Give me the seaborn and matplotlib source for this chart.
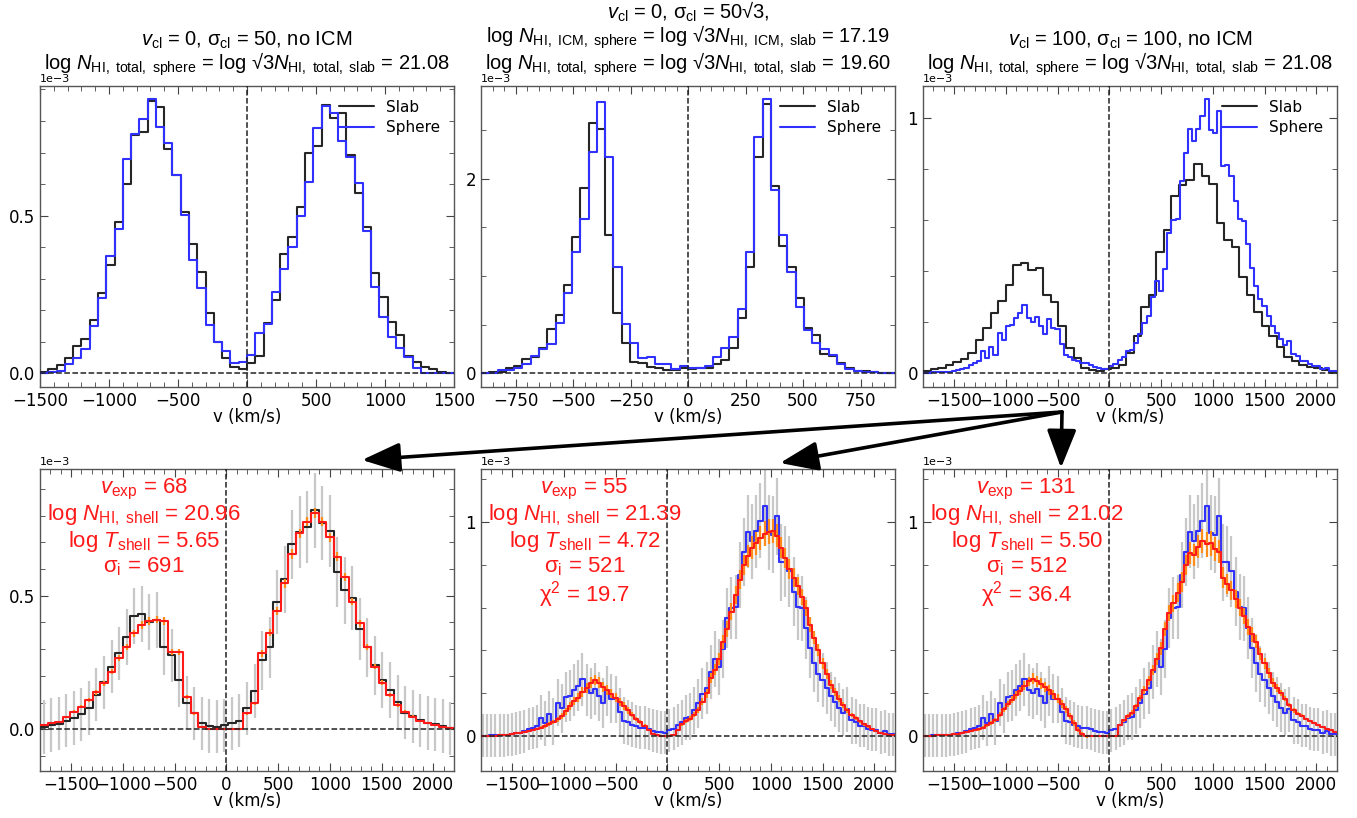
import matplotlib
matplotlib.use("Agg")
import matplotlib.pyplot as plt
import numpy as np
import seaborn as sns
from matplotlib.lines import Line2D
from matplotlib.patches import FancyArrowPatch
from matplotlib.ticker import MultipleLocator, AutoMinorLocator, ScalarFormatter

# ---- data (all fluxes in units of 1e-3) ----
# panel 1: v_cl = 0, sigma_cl = 50, 50 bins over [-1500, 1500]
slab_v0_s50 = [0.005, 0.013, 0.026, 0.050, 0.085, 0.108, 0.170, 0.256, 0.344, 0.480,
               0.600, 0.756, 0.766, 0.865, 0.844, 0.710, 0.629, 0.510, 0.410, 0.322,
               0.190, 0.100, 0.048, 0.021, 0.013, 0.034, 0.055, 0.160, 0.233, 0.378,
               0.433, 0.528, 0.700, 0.720, 0.851, 0.810, 0.824, 0.692, 0.571, 0.465,
               0.319, 0.243, 0.164, 0.122, 0.055, 0.037, 0.019, 0.013, 0.004, 0.002]
sphere_v0_s50 = [0.002, 0.004, 0.008, 0.030, 0.048, 0.076, 0.150, 0.238, 0.373, 0.458,
                 0.680, 0.759, 0.807, 0.870, 0.782, 0.729, 0.629, 0.502, 0.360, 0.270,
                 0.153, 0.100, 0.072, 0.032, 0.037, 0.058, 0.127, 0.156, 0.259, 0.330,
                 0.402, 0.500, 0.605, 0.777, 0.846, 0.824, 0.738, 0.687, 0.603, 0.451,
                 0.275, 0.178, 0.116, 0.079, 0.051, 0.016, 0.002, 0.002, 0.001, 0.001]

# panel 2: v_cl = 0, sigma_cl = 50 sqrt3 with ICM, 50 bins over [-900, 900]
slab_icm = [0.007, 0.010, 0.017, 0.050, 0.075, 0.150, 0.170, 0.257, 0.452, 0.600,
            0.910, 1.404, 1.900, 2.575, 2.510, 1.418, 0.616, 0.315, 0.120, 0.110,
            0.062, 0.060, 0.034, 0.034, 0.050, 0.040, 0.050, 0.060, 0.100, 0.140,
            0.257, 0.565, 1.096, 2.220, 2.770, 1.920, 1.308, 1.090, 0.770, 0.462,
            0.394, 0.200, 0.178, 0.110, 0.051, 0.027, 0.027, 0.017, 0.007, 0.003]
sphere_icm = [0.007, 0.007, 0.034, 0.034, 0.050, 0.096, 0.178, 0.247, 0.298, 0.514,
              0.822, 1.250, 1.582, 2.277, 2.790, 2.220, 1.090, 0.503, 0.315, 0.154,
              0.171, 0.092, 0.092, 0.041, 0.075, 0.060, 0.060, 0.075, 0.164, 0.264,
              0.377, 0.657, 1.250, 2.430, 2.815, 1.880, 1.421, 1.038, 0.685, 0.445,
              0.315, 0.247, 0.188, 0.096, 0.048, 0.027, 0.010, 0.010, 0.008, 0.003]

# panel 3: v_cl = 100, sigma_cl = 100, range [-1800, 2200]
# slab: 55 bins, sphere: 100 bins
slab_v100 = [0.008, 0.016, 0.021, 0.032, 0.043, 0.056, 0.079, 0.130, 0.176, 0.235,
             0.284, 0.346, 0.423, 0.430, 0.403, 0.410, 0.307, 0.277, 0.184, 0.100,
             0.060, 0.022, 0.012, 0.010, 0.015, 0.022, 0.032, 0.078, 0.144, 0.258,
             0.307, 0.475, 0.562, 0.692, 0.738, 0.756, 0.820, 0.772, 0.741, 0.588,
             0.520, 0.492, 0.375, 0.307, 0.239, 0.184, 0.146, 0.102, 0.062, 0.048,
             0.033, 0.024, 0.019, 0.012, 0.004]
sphere_v100 = [0.002, 0.002, 0.003, 0.003, 0.003, 0.004, 0.005, 0.008, 0.013, 0.016,
               0.022, 0.033, 0.038, 0.046, 0.085, 0.059, 0.104, 0.070, 0.156, 0.130,
               0.183, 0.189, 0.215, 0.235, 0.265, 0.215, 0.200, 0.219, 0.185, 0.154,
               0.211, 0.175, 0.172, 0.114, 0.072, 0.065, 0.052, 0.046, 0.039, 0.039,
               0.033, 0.026, 0.020, 0.018, 0.016, 0.027, 0.035, 0.050, 0.065, 0.085,
               0.090, 0.120, 0.153, 0.198, 0.224, 0.300, 0.359, 0.322, 0.407, 0.550,
               0.600, 0.602, 0.752, 0.860, 0.954, 0.909, 0.957, 1.006, 1.072, 0.950,
               0.941, 1.026, 0.811, 0.815, 0.770, 0.674, 0.602, 0.596, 0.505, 0.413,
               0.342, 0.289, 0.263, 0.224, 0.185, 0.159, 0.133, 0.110, 0.126, 0.074,
               0.068, 0.048, 0.048, 0.035, 0.029, 0.029, 0.016, 0.022, 0.009, 0.009]

# data errors (grey bars)
slab_v100_err = [0.100, 0.100, 0.100, 0.100, 0.100, 0.100, 0.100, 0.100, 0.100, 0.100,
                 0.100, 0.105, 0.105, 0.105, 0.105, 0.105, 0.105, 0.100, 0.100, 0.100,
                 0.100, 0.100, 0.100, 0.100, 0.100, 0.100, 0.100, 0.100, 0.100, 0.110,
                 0.115, 0.120, 0.125, 0.130, 0.135, 0.135, 0.140, 0.140, 0.135, 0.130,
                 0.125, 0.120, 0.115, 0.110, 0.110, 0.105, 0.105, 0.100, 0.100, 0.100,
                 0.100, 0.100, 0.100, 0.100, 0.100]
sphere_v100_err = [0.100, 0.100, 0.100, 0.100, 0.100, 0.100, 0.100, 0.100, 0.100, 0.100,
                   0.100, 0.100, 0.100, 0.100, 0.105, 0.105, 0.105, 0.110, 0.110, 0.115,
                   0.115, 0.120, 0.120, 0.120, 0.125, 0.120, 0.120, 0.120, 0.115, 0.115,
                   0.115, 0.115, 0.110, 0.110, 0.110, 0.105, 0.105, 0.100, 0.100, 0.100,
                   0.100, 0.100, 0.100, 0.100, 0.100, 0.100, 0.100, 0.100, 0.105, 0.105,
                   0.110, 0.110, 0.115, 0.120, 0.120, 0.125, 0.130, 0.130, 0.135, 0.140,
                   0.145, 0.150, 0.155, 0.160, 0.170, 0.175, 0.170, 0.175, 0.185, 0.175,
                   0.180, 0.180, 0.180, 0.165, 0.165, 0.160, 0.155, 0.150, 0.145, 0.140,
                   0.135, 0.130, 0.125, 0.120, 0.115, 0.115, 0.115, 0.110, 0.105, 0.110,
                   0.105, 0.100, 0.100, 0.100, 0.100, 0.100, 0.100, 0.100, 0.100, 0.100]

# shell-model fits (red) and their errors (orange)
fit_slab = [0.016, 0.022, 0.029, 0.047, 0.066, 0.085, 0.110, 0.138, 0.172, 0.216,
            0.266, 0.309, 0.360, 0.390, 0.405, 0.410, 0.405, 0.290, 0.290, 0.120,
            0.060, 0.008, 0.000, 0.000, 0.000, 0.000, 0.002, 0.060, 0.097, 0.284,
            0.362, 0.444, 0.546, 0.656, 0.733, 0.777, 0.810, 0.777, 0.718, 0.646,
            0.571, 0.478, 0.397, 0.309, 0.234, 0.175, 0.128, 0.091, 0.066, 0.047,
            0.032, 0.022, 0.015, 0.010, 0.004]
fit_slab_err = [0.002, 0.002, 0.003, 0.004, 0.005, 0.006, 0.007, 0.008, 0.009, 0.010,
                0.011, 0.012, 0.013, 0.014, 0.014, 0.014, 0.014, 0.012, 0.012, 0.008,
                0.005, 0.002, 0.000, 0.000, 0.000, 0.000, 0.001, 0.005, 0.007, 0.012,
                0.014, 0.015, 0.016, 0.017, 0.018, 0.018, 0.018, 0.018, 0.017, 0.016,
                0.015, 0.014, 0.013, 0.012, 0.010, 0.009, 0.008, 0.007, 0.006, 0.005,
                0.004, 0.003, 0.003, 0.002, 0.001]
fit_sphere_a = [0.000, 0.000, 0.001, 0.002, 0.003, 0.005, 0.007, 0.010, 0.013, 0.016,
                0.020, 0.024, 0.028, 0.033, 0.040, 0.048, 0.055, 0.065, 0.078, 0.095,
                0.115, 0.140, 0.165, 0.180, 0.205, 0.225, 0.250, 0.262, 0.250, 0.230,
                0.215, 0.198, 0.180, 0.160, 0.140, 0.120, 0.100, 0.080, 0.065, 0.048,
                0.030, 0.012, 0.003, 0.000, 0.000, 0.000, 0.005, 0.028, 0.055, 0.070,
                0.082, 0.100, 0.121, 0.160, 0.200, 0.270, 0.310, 0.360, 0.440, 0.500,
                0.580, 0.660, 0.730, 0.800, 0.840, 0.880, 0.900, 0.925, 0.945, 0.955,
                0.958, 0.935, 0.880, 0.830, 0.780, 0.740, 0.700, 0.650, 0.600, 0.520,
                0.460, 0.400, 0.340, 0.290, 0.240, 0.205, 0.175, 0.145, 0.120, 0.100,
                0.085, 0.070, 0.055, 0.045, 0.033, 0.022, 0.015, 0.010, 0.006, 0.004]
fit_sphere_b = [0.000, 0.001, 0.002, 0.003, 0.004, 0.005, 0.007, 0.009, 0.012, 0.015,
                0.018, 0.022, 0.027, 0.032, 0.040, 0.050, 0.062, 0.075, 0.100, 0.125,
                0.150, 0.170, 0.190, 0.210, 0.235, 0.255, 0.268, 0.255, 0.245, 0.230,
                0.215, 0.195, 0.175, 0.150, 0.125, 0.095, 0.060, 0.030, 0.010, 0.000,
                0.000, 0.000, 0.000, 0.000, 0.000, 0.000, 0.000, 0.051, 0.075, 0.095,
                0.110, 0.140, 0.180, 0.215, 0.260, 0.310, 0.360, 0.410, 0.500, 0.575,
                0.620, 0.670, 0.720, 0.800, 0.855, 0.845, 0.885, 0.912, 0.895, 0.900,
                0.875, 0.860, 0.740, 0.710, 0.680, 0.640, 0.600, 0.560, 0.510, 0.475,
                0.440, 0.385, 0.340, 0.295, 0.250, 0.225, 0.200, 0.175, 0.145, 0.120,
                0.105, 0.095, 0.080, 0.070, 0.060, 0.050, 0.042, 0.035, 0.027, 0.020]
fit_sphere_err = [0.001, 0.001, 0.001, 0.001, 0.002, 0.002, 0.002, 0.003, 0.003, 0.004,
                  0.004, 0.005, 0.005, 0.006, 0.007, 0.008, 0.009, 0.010, 0.011, 0.013,
                  0.015, 0.017, 0.019, 0.020, 0.022, 0.023, 0.025, 0.025, 0.025, 0.024,
                  0.023, 0.022, 0.020, 0.019, 0.017, 0.015, 0.013, 0.011, 0.009, 0.007,
                  0.005, 0.003, 0.001, 0.000, 0.000, 0.000, 0.001, 0.004, 0.007, 0.009,
                  0.010, 0.012, 0.014, 0.017, 0.020, 0.024, 0.027, 0.030, 0.034, 0.037,
                  0.040, 0.043, 0.045, 0.047, 0.050, 0.052, 0.055, 0.056, 0.057, 0.057,
                  0.056, 0.054, 0.050, 0.046, 0.045, 0.043, 0.041, 0.039, 0.037, 0.034,
                  0.031, 0.028, 0.025, 0.022, 0.020, 0.018, 0.015, 0.013, 0.011, 0.010,
                  0.008, 0.007, 0.006, 0.005, 0.004, 0.003, 0.002, 0.002, 0.001, 0.001]

titles = [
    "$v_{\\rm cl}$ = 0, $\\mathrm{\\sigma}_{\\rm cl}$ = 50, no ICM\n"
    "log $N_{\\rm HI,\\ total,\\ sphere}$ = log √3$N_{\\rm HI,\\ total,\\ slab}$ = 21.08",
    "$v_{\\rm cl}$ = 0, $\\mathrm{\\sigma}_{\\rm cl}$ = 50√3,\n"
    "log $N_{\\rm HI,\\ ICM,\\ sphere}$ = log √3$N_{\\rm HI,\\ ICM,\\ slab}$ = 17.19\n"
    "log $N_{\\rm HI,\\ total,\\ sphere}$ = log √3$N_{\\rm HI,\\ total,\\ slab}$ = 19.60",
    "$v_{\\rm cl}$ = 100, $\\mathrm{\\sigma}_{\\rm cl}$ = 100, no ICM\n"
    "log $N_{\\rm HI,\\ total,\\ sphere}$ = log √3$N_{\\rm HI,\\ total,\\ slab}$ = 21.08",
]
fit_labels = [
    "$v_{\\rm exp}$ = 68\nlog $N_{\\rm HI,\\ shell}$ = 20.96\nlog $T_{\\rm shell}$ = 5.65\n"
    "$\\mathrm{\\sigma}_{\\rm i}$ = 691",
    "$v_{\\rm exp}$ = 55\nlog $N_{\\rm HI,\\ shell}$ = 21.39\nlog $T_{\\rm shell}$ = 4.72\n"
    "$\\mathrm{\\sigma}_{\\rm i}$ = 521\n$\\mathrm{\\chi}^2$ = 19.7",
    "$v_{\\rm exp}$ = 131\nlog $N_{\\rm HI,\\ shell}$ = 21.02\nlog $T_{\\rm shell}$ = 5.50\n"
    "$\\mathrm{\\sigma}_{\\rm i}$ = 512\n$\\mathrm{\\chi}^2$ = 36.4",
]

SLAB_C = "#262626"
SPHERE_C = "#3030ff"
FIT_C = "#ff1a1a"
FITERR_C = "#ff8c1a"
ERR_C = "#c8c8c8"

sns.set_style("ticks", {"xtick.direction": "in", "ytick.direction": "in",
                        "xtick.top": True, "ytick.right": True,
                        "axes.edgecolor": "#555555", "text.color": "black",
                        "axes.labelcolor": "black"})
plt.rcParams["font.family"] = ["DejaVu Sans"]
plt.rcParams["mathtext.fontset"] = "custom"
plt.rcParams["mathtext.rm"] = "Liberation Sans"
plt.rcParams["mathtext.it"] = "Liberation Sans:italic"
plt.rcParams["mathtext.bf"] = "Liberation Sans:bold"
plt.rcParams["mathtext.sf"] = "Liberation Sans"
plt.rcParams["axes.linewidth"] = 1.0
ARIAL = ["Liberation Sans", "DejaVu Sans"]


def step(ax, vals, lo, hi, color, lw=1.5, z=3):
    edges = np.linspace(lo, hi, len(vals) + 1)
    centers = 0.5 * (edges[:-1] + edges[1:])
    sns.histplot(x=centers, weights=np.asarray(vals) * 1e-3, bins=list(edges),
                 element="step", fill=False, color=color, linewidth=lw,
                 ax=ax, zorder=z)
    return centers


def errbars(ax, centers, vals, err, color, lw, z):
    ax.errorbar(centers, np.asarray(vals) * 1e-3, yerr=np.asarray(err) * 1e-3,
                fmt="none", ecolor=color, elinewidth=lw, capsize=0, zorder=z)


def style(ax, xlim, ylim, xmaj, ymaj):
    ax.set_xlim(*xlim)
    ax.set_ylim(ylim[0] * 1e-3, ylim[1] * 1e-3)
    ax.xaxis.set_major_locator(MultipleLocator(xmaj))
    ax.yaxis.set_major_locator(MultipleLocator(ymaj * 1e-3))
    ax.xaxis.set_minor_locator(AutoMinorLocator())
    ax.yaxis.set_minor_locator(AutoMinorLocator())
    fmt = ScalarFormatter()
    fmt.set_powerlimits((-3, -3))
    ax.yaxis.set_major_formatter(fmt)
    ax.tick_params(which="both", direction="in", top=True, right=True,
                   labelsize=12, color="#444444", labelcolor="black")
    ax.tick_params(which="major", length=6)
    ax.tick_params(which="minor", length=3.5)
    ax.yaxis.get_offset_text().set_fontsize(8)
    ax.axhline(0, color="#222222", ls="--", lw=1.1, zorder=5)
    ax.axvline(0, color="#222222", ls="--", lw=1.1, zorder=5)
    ax.set_xlabel("v (km/s)", fontsize=12, labelpad=-1)
    ax.set_ylabel("")


fig = plt.figure(figsize=(13.57, 8.18), dpi=100)
W, H = 1357, 818
lefts = [40, 481, 923]
top_axes = [fig.add_axes([l / W, (H - 387) / H, 414 / W, 301 / H]) for l in lefts]
bot_axes = [fig.add_axes([l / W, (H - 771) / H, 414 / W, 302 / H]) for l in lefts]

# top row
ax = top_axes[0]
step(ax, slab_v0_s50, -1500, 1500, SLAB_C)
step(ax, sphere_v0_s50, -1500, 1500, SPHERE_C)
style(ax, (-1500, 1500), (-0.0435, 0.911), 500, 0.5)

ax = top_axes[1]
step(ax, slab_icm, -900, 900, SLAB_C)
step(ax, sphere_icm, -900, 900, SPHERE_C)
style(ax, (-900, 900), (-0.14, 2.95), 250, 2)

ax = top_axes[2]
step(ax, slab_v100, -1800, 2200, SLAB_C)
step(ax, sphere_v100, -1800, 2200, SPHERE_C)
style(ax, (-1800, 2200), (-0.054, 1.124), 500, 1)

for ax, t in zip(top_axes, titles):
    ax.text(0.5, 1.027, t, transform=ax.transAxes, ha="center", va="bottom",
            fontsize=14.5, family=ARIAL, linespacing=0.97, color="black")
    ax.legend(handles=[Line2D([], [], color=SLAB_C, lw=1.5, label="Slab"),
                       Line2D([], [], color=SPHERE_C, lw=1.5, label="Sphere")],
              loc="upper right", frameon=False, fontsize=11, labelspacing=0.35,
              handlelength=2.3, borderaxespad=0.5)

# bottom row: fits
ax = bot_axes[0]
c = step(ax, slab_v100, -1800, 2200, SLAB_C)
errbars(ax, c, slab_v100, slab_v100_err, ERR_C, 1.6, 1)
step(ax, fit_slab, -1800, 2200, FIT_C, z=4)
errbars(ax, c, fit_slab, fit_slab_err, FITERR_C, 1.6, 3.5)
style(ax, (-1800, 2200), (-0.156, 0.974), 500, 0.5)

for ax, fit in zip(bot_axes[1:], [fit_sphere_a, fit_sphere_b]):
    c = step(ax, sphere_v100, -1800, 2200, SPHERE_C)
    errbars(ax, c, sphere_v100, sphere_v100_err, ERR_C, 1.6, 1)
    step(ax, fit, -1800, 2200, FIT_C, z=4)
    errbars(ax, c, fit, fit_sphere_err, FITERR_C, 1.6, 3.5)
    style(ax, (-1800, 2200), (-0.163, 1.247), 500, 1)

for ax, t in zip(bot_axes, fit_labels):
    ax.text(0.25, 0.975, t, transform=ax.transAxes, ha="center", va="top",
            fontsize=16, color="#ff1a1a", family=ARIAL, linespacing=1.06, zorder=6)

# arrows from the v_cl = 100 panel to the fit panels
start = (1062, H - 412)
for tip in [(362, H - 460), (780, H - 463), (1061, H - 468)]:
    fig.add_artist(FancyArrowPatch(
        posA=start, posB=tip, transform=None,
        arrowstyle="-|>,head_length=1.3,head_width=0.5", mutation_scale=18,
        lw=2.6, color="black", shrinkA=0, shrinkB=0))

fig.savefig("out.png", dpi=100)
